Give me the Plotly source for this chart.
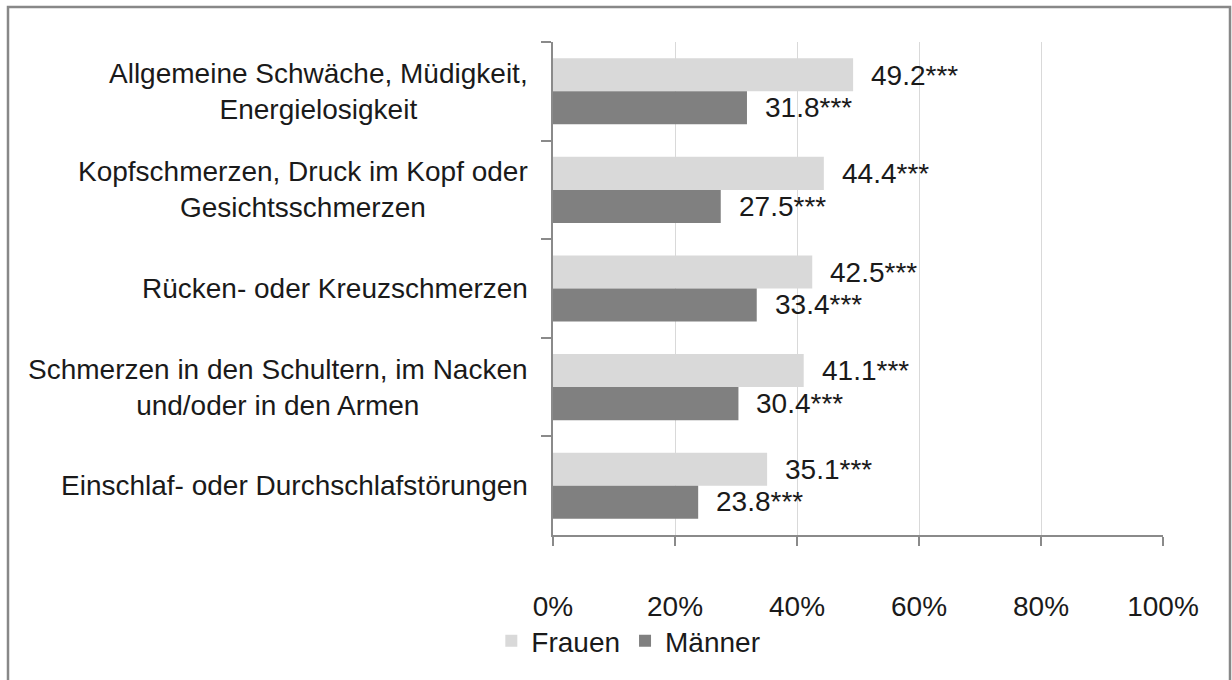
import plotly.graph_objects as go

categories = [
    "Allgemeine Schwäche, Müdigkeit,<br>Energielosigkeit",
    "Kopfschmerzen, Druck im Kopf oder<br>Gesichtsschmerzen",
    "Rücken- oder Kreuzschmerzen",
    "Schmerzen in den Schultern, im Nacken<br>und/oder in den Armen",
    "Einschlaf- oder Durchschlafstörungen",
]
frauen = [49.2, 44.4, 42.5, 41.1, 35.1]
maenner = [31.8, 27.5, 33.4, 30.4, 23.8]
significance = "***"
x_ticks = [0, 20, 40, 60, 80, 100]
x_tick_labels = ["0%", "20%", "40%", "60%", "80%", "100%"]

FONT = "Liberation Sans Narrow, Arial Narrow, Liberation Sans, Arial, sans-serif"
TXT = "#1a1a1a"
FS = 28
W, H = 1232, 680
L, R, T, B = 553, 69, 42, 145
PW, PH = W - L - R, H - T - B

fig = go.Figure()
fig.add_trace(go.Bar(
    name="Frauen", y=categories, x=frauen, orientation="h",
    marker=dict(color="#d9d9d9", line=dict(width=0)),
))
fig.add_trace(go.Bar(
    name="Männer", y=categories, x=maenner, orientation="h",
    marker=dict(color="#808080", line=dict(width=0)),
))

# value labels to the right of each bar; Frauen sit in the upper half
# of the category band, Männer in the lower half
bar_offset = 0.165
for c, f, m in zip(categories, frauen, maenner):
    for val, shift in ((f, -bar_offset), (m, bar_offset)):
        fig.add_annotation(
            x=val, xref="x", y=categories.index(c) + shift, yref="y",
            text=f"{val:.1f}{significance}", showarrow=False,
            xanchor="left", yanchor="middle", xshift=16,
            font=dict(family=FONT, size=FS, color=TXT),
        )

# category labels, centred line by line, right edge next to the axis
for c in categories:
    fig.add_annotation(
        x=(530 - L) / PW, xref="paper", y=c, yref="y",
        text=c, showarrow=False, xanchor="right", yanchor="middle",
        align="center", font=dict(family=FONT, size=FS, color=TXT),
    )

# outer frame
fig.add_shape(
    type="rect", xref="paper", yref="paper",
    x0=(8 - L) / PW, x1=(1230 - L) / PW,
    y0=(T + PH - 690) / PH, y1=(T + PH - 7) / PH,
    line=dict(color="#888888", width=2.5), fillcolor="rgba(0,0,0,0)", layer="below",
)

fig.update_layout(
    width=W, height=H,
    margin=dict(l=L, r=R, t=T, b=B, pad=0, autoexpand=False),
    paper_bgcolor="white", plot_bgcolor="white",
    barmode="group", bargap=0.33, bargroupgap=0.0,
    font=dict(family=FONT, size=FS, color=TXT),
    showlegend=True,
    legend=dict(
        orientation="h", xref="container", yref="container",
        x=0.51, xanchor="center", y=1 - 641 / H, yanchor="middle",
        font=dict(family=FONT, size=FS, color=TXT),
        itemwidth=30, tracegroupgap=0, bgcolor="rgba(0,0,0,0)",
    ),
    xaxis=dict(
        range=[0, 100], tickvals=x_ticks, ticktext=x_tick_labels,
        showgrid=True, gridcolor="#d9d9d9", gridwidth=1,
        showline=True, linecolor="#8a8a8a", linewidth=1.5,
        ticks="outside", ticklen=9, tickcolor="#8a8a8a", tickwidth=1.5,
        tickfont=dict(family=FONT, size=FS, color=TXT),
        ticklabelstandoff=37, zeroline=False, fixedrange=True, automargin=False,
    ),
    yaxis=dict(
        autorange="reversed", type="category",
        showticklabels=False, showgrid=False,
        showline=True, linecolor="#8a8a8a", linewidth=1.5,
        ticks="outside", ticklen=10, tickcolor="#8a8a8a", tickwidth=1.5,
        tickson="boundaries", fixedrange=True, automargin=False,
    ),
)

fig.write_html("out.html")
